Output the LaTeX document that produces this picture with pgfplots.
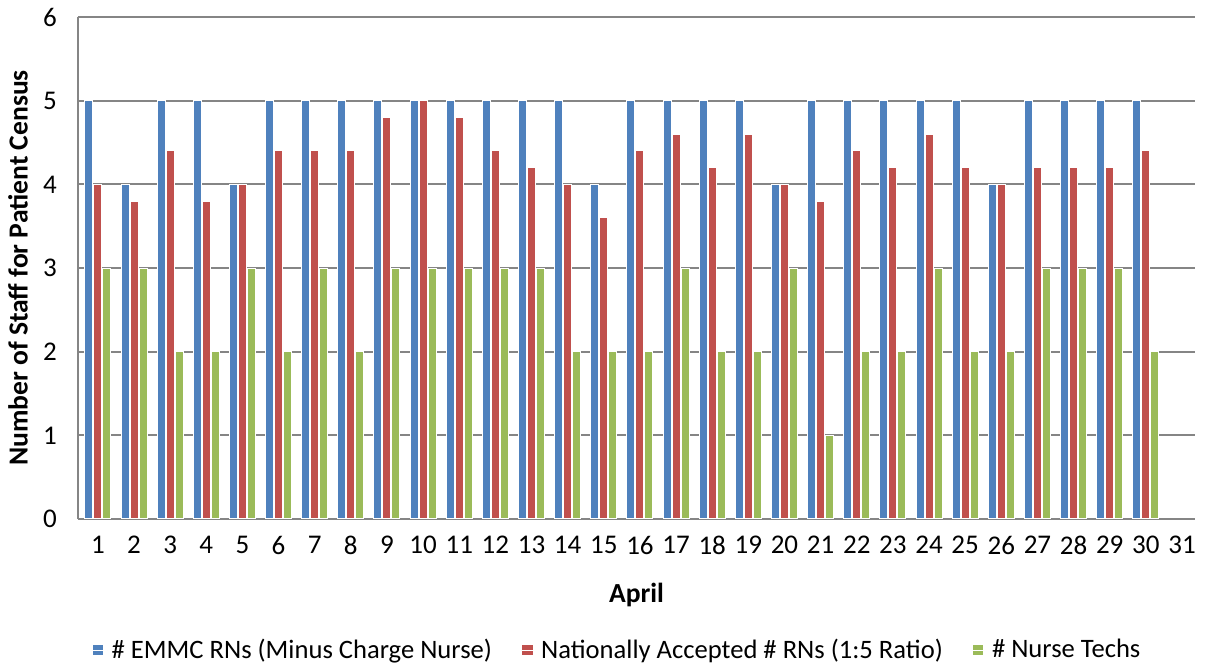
\documentclass[border=0pt]{standalone}
\usepackage{pgfplots}
\pgfplotsset{compat=1.18}
\usepackage{pgfplotstable}
\usepackage{fontspec}
\setmainfont{Carlito}
\definecolor{xlblue}{HTML}{4F81BD}
\definecolor{xlred}{HTML}{C0504D}
\definecolor{xlgreen}{HTML}{9BBB59}
\definecolor{gridgray}{HTML}{858585}

% day, EMMC RNs, nationally accepted RNs, nurse techs
\pgfplotstableread{
day emmc natl techs
1  5 4.0 3
2  4 3.8 3
3  5 4.4 2
4  5 3.8 2
5  4 4.0 3
6  5 4.4 2
7  5 4.4 3
8  5 4.4 2
9  5 4.8 3
10 5 5.0 3
11 5 4.8 3
12 5 4.4 3
13 5 4.2 3
14 5 4.0 2
15 4 3.6 2
16 5 4.4 2
17 5 4.6 3
18 5 4.2 2
19 5 4.6 2
20 4 4.0 3
21 5 3.8 1
22 5 4.4 2
23 5 4.2 2
24 5 4.6 3
25 5 4.2 2
26 4 4.0 2
27 5 4.2 3
28 5 4.2 3
29 5 4.2 3
30 5 4.4 2
}\staff

\begin{document}
\begin{tikzpicture}
\begin{axis}[
    at={(0,0)}, anchor=south west,
    scale only axis,
    width=558.5pt, height=251pt,
    ybar=0.5pt, bar width=4pt,
    xmin=0.45, xmax=31.36,
    ymin=0, ymax=6,
    xtick={1,...,31},
    ytick={0,...,6},
    major tick length=0pt,
    axis x line*=bottom, axis y line*=left,
    axis line style={gridgray, line width=1pt},
    ymajorgrids, grid style={gridgray, line width=1pt},
    /pgf/number format/assume math mode=true,
    tick label style={font=\fontsize{13.5}{15}\selectfont},
    yticklabel style={anchor=east, xshift=-7pt},
    xticklabel style={yshift=-5pt},
    xlabel={\textbf{April}},
    ylabel={\textbf{Number of Staff for Patient Census}},
    label style={font=\fontsize{13.8}{15}\selectfont},
    xlabel style={at={(axis description cs:0.5,-0.151)}, anchor=center},
    ylabel style={at={(axis description cs:-0.0537,0.5)}, anchor=center},
    legend style={at={(axis description cs:0.4834,-0.261)}, anchor=center,
        legend columns=3, draw=none, font=\fontsize{13.3}{15}\selectfont,
        /tikz/every even column/.append style={column sep=12.5pt}},
    legend image code/.code={\fill[#1] (0pt,-2.9pt) rectangle (5.8pt,2.9pt);
        \path (0pt,0pt) -- (7.6pt,0pt);},
    every axis plot/.append style={draw=white, line width=0.5pt},
]
\addplot[fill=xlblue] table[x=day, y=emmc] {\staff};
\addplot[fill=xlred] table[x=day, y=natl] {\staff};
\addplot[fill=xlgreen] table[x=day, y=techs] {\staff};
\legend{\# EMMC RNs (Minus Charge Nurse), Nationally Accepted \# RNs (1:5 Ratio), \# Nurse Techs}
\end{axis}
\pgfresetboundingbox
\path[use as bounding box] (-39pt,-74.5pt) rectangle (564pt,259.5pt);
\end{tikzpicture}
\end{document}
